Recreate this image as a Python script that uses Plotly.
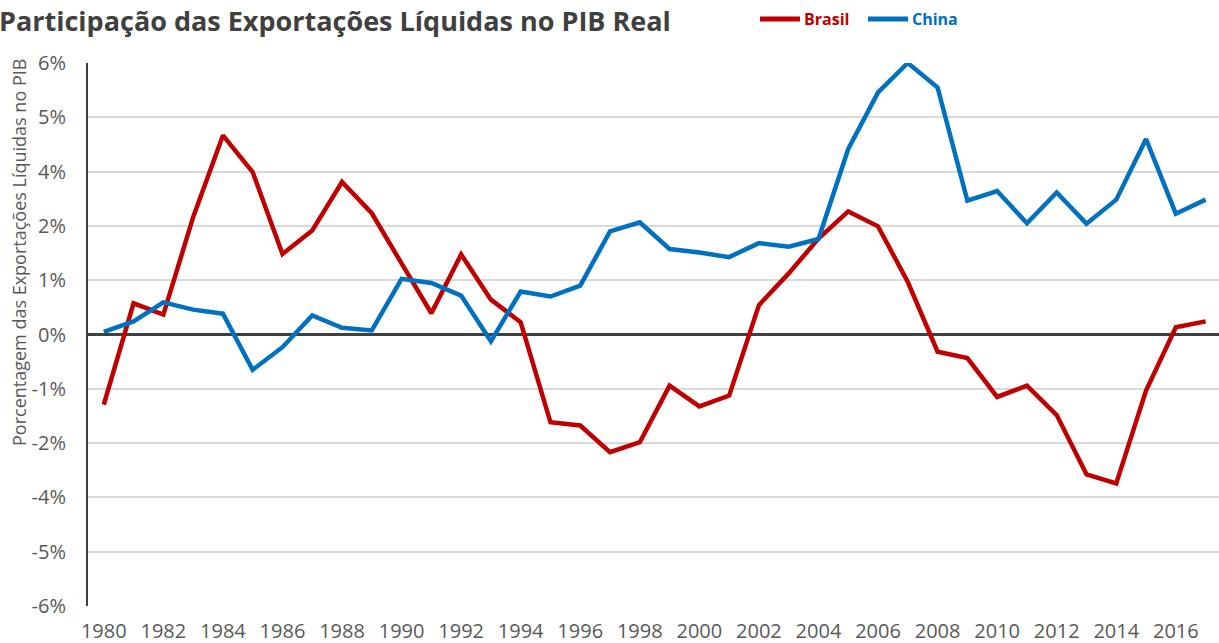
import plotly.graph_objects as go

years = list(range(1980, 2018))
brasil = [-1.55, 0.69, 0.44, 2.59, 4.40, 3.59, 1.78, 2.30, 3.37, 2.68,
          1.57, 0.47, 1.77, 0.77, 0.27, -1.94, -2.01, -2.60, -2.38, -1.13,
          -1.59, -1.35, 0.65, 1.35, 2.12, 2.72, 2.39, 1.16, -0.38, -0.52,
          -1.38, -1.13, -1.78, -3.09, -3.29, -1.24, 0.16, 0.29]
china = [0.06, 0.29, 0.71, 0.55, 0.46, -0.78, -0.28, 0.42, 0.15, 0.09,
         1.23, 1.14, 0.86, -0.15, 0.95, 0.84, 1.08, 2.28, 2.48, 1.89,
         1.81, 1.71, 2.02, 1.94, 2.11, 4.10, 5.35, 6.00, 5.46, 2.96,
         3.17, 2.46, 3.14, 2.45, 2.98, 4.32, 2.67, 2.98]

y_tickvals = [-6, -4.8, -3.6, -2.4, -1.2, 0, 1.2, 2.4, 3.6, 4.8, 6]
y_ticktext = ["-6%", "-5%", "-4%", "-2%", "-1%", "0%", "1%", "2%", "4%", "5%", "6%"]
x_tickvals = list(range(1980, 2017, 2))

series_names = ["Brasil", "China"]
title_text = "Participação das Exportações Líquidas no PIB Real"
ytitle_text = "Porcentagem das Exportações Líquidas no PIB"

RED = "#C00000"
BLUE = "#0070C0"
W, H = 1219, 643
L, R, T, B = 88, 0, 63, 37
PW, PH = W - L - R, H - T - B


def px(xp):
    return (xp - L) / PW


def py(yp):
    return (H - B - yp) / PH


fig = go.Figure()
fig.add_trace(go.Scatter(x=years, y=brasil, mode="lines", name=series_names[0],
                         line=dict(color=RED, width=4.5), cliponaxis=False,
                         showlegend=False))
fig.add_trace(go.Scatter(x=years, y=china, mode="lines", name=series_names[1],
                         line=dict(color=BLUE, width=4.5), cliponaxis=False,
                         showlegend=False))

shapes = []
annotations = []
legend_items = [(series_names[0], RED, 760), (series_names[1], BLUE, 868)]
for name, col, x0 in legend_items:
    shapes.append(dict(type="line", xref="paper", yref="paper",
                       x0=px(x0), x1=px(x0 + 40), y0=py(19), y1=py(19),
                       line=dict(color=col, width=5)))
    annotations.append(dict(text="<b>" + name + "</b>", xref="paper", yref="paper",
                            x=px(x0 + 42), y=py(19), xanchor="left", yanchor="middle",
                            showarrow=False,
                            font=dict(family="Open Sans", size=16, color=col)))

annotations.append(dict(text=ytitle_text, textangle=-90, xref="paper", yref="paper",
                        x=px(19), y=py(253), xanchor="center", yanchor="middle",
                        showarrow=False,
                        font=dict(family="Open Sans", size=18, color="#595959")))

annotations.append(dict(text="<b>" + title_text + "</b>", xref="paper", yref="paper",
                        x=px(-3), y=py(20), xanchor="left", yanchor="middle",
                        showarrow=False,
                        font=dict(family="Open Sans", size=27, color="#404040")))

fig.update_layout(
    width=W, height=H,
    margin=dict(l=L, r=R, t=T, b=B, autoexpand=False),
    paper_bgcolor="white", plot_bgcolor="white",
    font=dict(family="Open Sans", color="#595959"),
    showlegend=False,
    xaxis=dict(range=[1979.47, 2017.45], tickvals=x_tickvals,
               tickfont=dict(size=20, color="#595959"),
               showgrid=False, zeroline=False, showline=False,
               ticks="", ticklabelstandoff=11, fixedrange=True, automargin=False),
    yaxis=dict(range=[-6, 6], tickvals=y_tickvals, ticktext=y_ticktext,
               tickfont=dict(size=20, color="#595959"),
               showgrid=True, gridcolor="#D9D9D9", gridwidth=1.5,
               zeroline=True, zerolinecolor="#404040", zerolinewidth=2.5,
               showline=True, linecolor="#404040", linewidth=2,
               ticks="", ticklabelstandoff=16, fixedrange=True, automargin=False),
    shapes=shapes,
    annotations=annotations,
)

fig.write_html("out.html",
               config={"displayModeBar": False},
               post_script="document.body.style.margin='0';document.body.style.overflow='hidden';")
